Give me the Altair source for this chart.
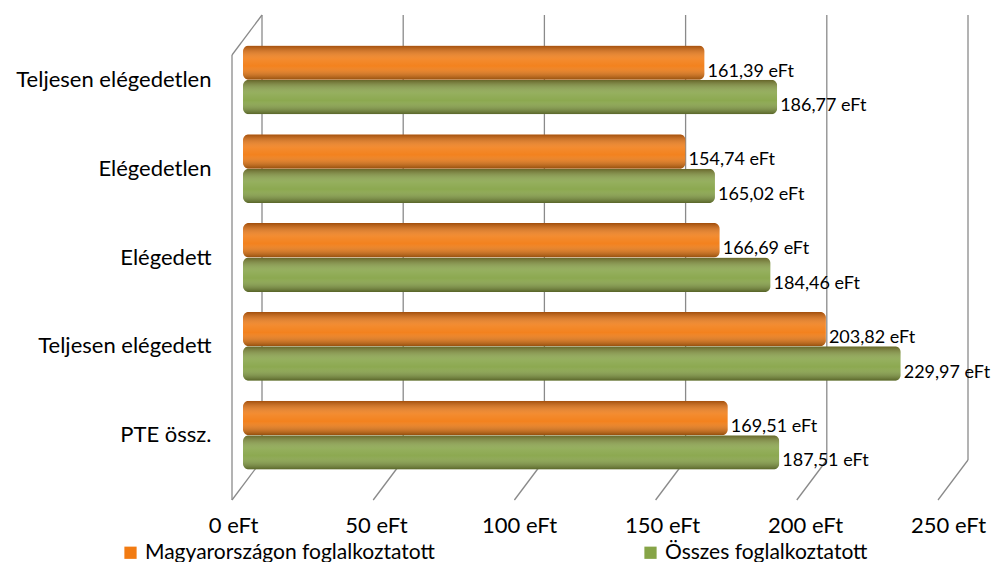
import altair as alt
import pandas as pd

categories = ["Teljesen elégedetlen", "Elégedetlen", "Elégedett", "Teljesen elégedett", "PTE össz."]
series = ["Magyarországon foglalkoztatott", "Összes foglalkoztatott"]
hu_values = [161.39, 154.74, 166.69, 203.82, 169.51]
all_values = [186.77, 165.02, 184.46, 229.97, 187.51]
tick_values = [0, 50, 100, 150, 200, 250]
colors = ["#F27B12", "#86A447"]

rows = []
for c, a, b in zip(categories, hu_values, all_values):
    rows.append({"cat": c, "series": series[0], "value": a,
                 "label": f"{a:.2f}".replace(".", ",") + " eFt"})
    rows.append({"cat": c, "series": series[1], "value": b,
                 "label": f"{b:.2f}".replace(".", ",") + " eFt"})
df = pd.DataFrame(rows)
grid = pd.DataFrame({"v": tick_values})

FONT = "Lato"
GC = "#8a8a8a"
W, H = 715, 485

x_bar = alt.Scale(domain=[0, 250], nice=False)
x_back = alt.Scale(domain=[0, 250], range=[19, 725], nice=False)

x_axis = alt.Axis(values=tick_values, labelExpr="datum.value + ' eFt'", grid=False,
                  ticks=False, domain=False, labelFontSize=22, labelPadding=15,
                  labelOffset=-10, labelFlush=False, labelOverlap=False,
                  title=None, labelColor="black", labelFont=FONT)
y_enc = alt.Y("cat:N", sort=categories,
              scale=alt.Scale(paddingOuter=0.23, paddingInner=0),
              axis=alt.Axis(title=None, labelFontSize=22, labelColor="black",
                            labelFont=FONT, ticks=False, domain=False,
                            labelPadding=32, labelLimit=400))
yoff = alt.YOffset("series:N", sort=series,
                   scale=alt.Scale(paddingInner=0, paddingOuter=0.29))

base = alt.Chart(df)

bars = base.mark_bar(cornerRadius=6).encode(
    x=alt.X("value:Q", scale=x_bar, axis=x_axis),
    y=y_enc,
    yOffset=yoff,
    color=alt.Color("series:N", sort=series,
                    scale=alt.Scale(domain=series, range=colors),
                    legend=alt.Legend(orient="none", legendX=-123, legendY=527,
                                      direction="horizontal", title=None,
                                      symbolType="square", symbolSize=150,
                                      symbolStrokeWidth=0, labelFontSize=21,
                                      labelFont=FONT, labelColor="black",
                                      columnPadding=205, padding=0, labelLimit=500)),
)

shade = alt.LinearGradient(
    gradient="linear", x1=0, x2=0, y1=0, y2=1,
    stops=[
        alt.GradientStop(color="rgba(60,20,0,0.45)", offset=0),
        alt.GradientStop(color="rgba(255,255,255,0.12)", offset=0.4),
        alt.GradientStop(color="rgba(255,255,255,0.05)", offset=0.6),
        alt.GradientStop(color="rgba(30,20,0,0.45)", offset=1),
    ],
)
overlay = base.mark_bar(cornerRadius=6, fill=shade).encode(
    x=alt.X("value:Q", scale=x_bar, axis=None),
    y=y_enc,
    yOffset=yoff,
)

labels = base.mark_text(align="left", baseline="middle", dx=3, dy=9,
                        fontSize=18, font=FONT, color="black").encode(
    x=alt.X("value:Q", scale=x_bar, axis=None),
    y=y_enc,
    yOffset=yoff,
    text="label:N",
)

g = alt.Chart(grid)
back = g.mark_rule(color=GC, strokeWidth=1.3).encode(
    x=alt.X("v:Q", scale=x_back, axis=None), y=alt.value(0), y2=alt.value(445))
floor = g.mark_rule(color=GC, strokeWidth=1.3, x2Offset=-30).encode(
    x=alt.X("v:Q", scale=x_back, axis=None), x2="v:Q",
    y=alt.value(445), y2=alt.value(485))
left_wall = g.transform_filter("datum.v == 0").mark_rule(
    color=GC, strokeWidth=1.3, xOffset=-30).encode(
    x=alt.X("v:Q", scale=x_back, axis=None), y=alt.value(40), y2=alt.value(485))
top_diag = g.transform_filter("datum.v == 0").mark_rule(
    color=GC, strokeWidth=1.3, x2Offset=-30).encode(
    x=alt.X("v:Q", scale=x_back, axis=None), x2="v:Q",
    y=alt.value(0), y2=alt.value(40))

chart = alt.layer(back, floor, left_wall, top_diag, bars, overlay, labels).resolve_scale(
    x="independent"
).properties(
    width=W, height=H,
    autosize=alt.AutoSizeParams(type="none"),
    padding={"left": 235, "top": 7, "right": 36, "bottom": 62},
).configure_view(stroke=None)

chart.save("out.html", embed_options={"renderer": "svg", "actions": False})
